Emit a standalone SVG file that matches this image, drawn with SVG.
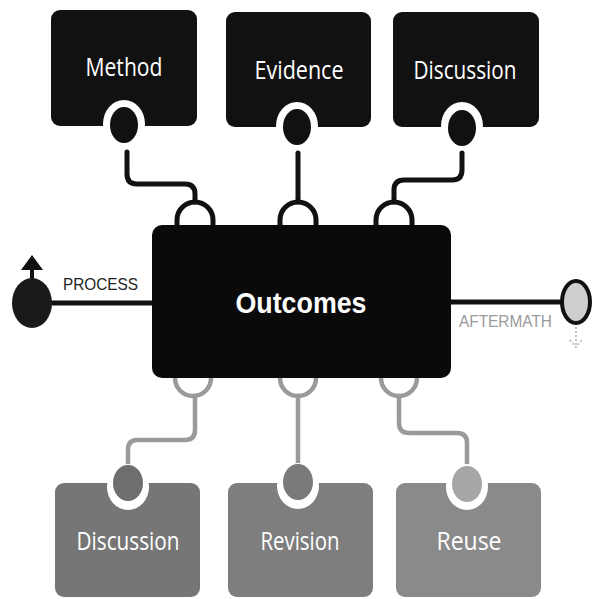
<svg xmlns="http://www.w3.org/2000/svg" width="594" height="599" viewBox="0 0 594 599">
  <defs>
    <style>
      .top { fill: #111; }
      .lbl { font-family: "Open Sans", "DejaVu Sans", sans-serif; font-size: 25px; fill: #fff; text-anchor: middle; }
      .notch { fill: #fff; }
      .dk { fill: #111; }
      .conT { fill: none; stroke: #111; stroke-width: 5; stroke-linecap: round; }
      .conB { fill: none; stroke: #9a9a9a; stroke-width: 4.5; stroke-linecap: round; }
      .sm { font-family: "Liberation Sans", Arial, sans-serif; }
    </style>
  </defs>
  <rect width="594" height="599" fill="#fff"/>

  <g id="connectors">
    <!-- top -->
    <path class="conT" d="M127,152 L127,174 Q127,184 137,184 L185,184 Q195,184 195,194 L195,202"/>
    <path class="conT" d="M298,153 L298,202"/>
    <path class="conT" d="M462,153 L462,170 Q462,180 452,180 L404,180 Q394,180 394,190 L394,202"/>
    <!-- top loops -->
    <path class="conT" d="M177,228 L177,220 A18,18 0 0 1 213,220 L213,228"/>
    <path class="conT" d="M280,228 L280,220 A18,18 0 0 1 316,220 L316,228"/>
    <path class="conT" d="M376,228 L376,220 A18,18 0 0 1 412,220 L412,228"/>
    <!-- bottom loops -->
    <path class="conB" d="M175,376 L175,378 A18,18 0 0 0 211,378 L211,376"/>
    <path class="conB" d="M280,376 L280,378 A18,18 0 0 0 316,378 L316,376"/>
    <path class="conB" d="M381,376 L381,378 A18,18 0 0 0 417,378 L417,376"/>
    <!-- bottom -->
    <path class="conB" d="M195,396 L195,430 Q195,440 185,440 L137,440 Q128,440 128,450 L128,465"/>
    <path class="conB" d="M298,396 L298,463"/>
    <path class="conB" d="M399,396 L399,423 Q399,433 409,433 L457,433 Q467,433 467,443 L467,467"/>
    <!-- process / aftermath -->
    <path d="M50,303 L153,303" stroke="#111" stroke-width="5" fill="none"/>
    <path d="M450,302 L562,302" stroke="#111" stroke-width="5" fill="none"/>
    <path d="M32,279 L32,265" stroke="#111" stroke-width="4" fill="none"/>
    <polygon points="32,255 21,270 43,270" fill="#111"/>
    <path d="M576,327 L576,345" stroke="#c4c4c4" stroke-width="2" stroke-dasharray="2 2" fill="none"/>
    <polyline points="570,340 576,347 582,340" stroke="#c4c4c4" stroke-width="2" stroke-dasharray="2 2" fill="none"/>
  </g>

  <g id="method">
    <rect class="top" x="51" y="10" width="146" height="116" rx="9"/>
    <ellipse class="notch" cx="124" cy="124" rx="21" ry="24"/>
    <ellipse class="dk" cx="124" cy="125" rx="14" ry="18"/>
    <text class="lbl" x="124" y="76" textLength="77" lengthAdjust="spacingAndGlyphs">Method</text>
  </g>
  <g id="evidence">
    <rect class="top" x="226" y="12" width="145" height="115" rx="9"/>
    <ellipse class="notch" cx="297" cy="126" rx="21" ry="24"/>
    <ellipse class="dk" cx="297" cy="127" rx="14" ry="18"/>
    <text class="lbl" x="299" y="79" textLength="89" lengthAdjust="spacingAndGlyphs">Evidence</text>
  </g>
  <g id="discussion-top">
    <rect class="top" x="393" y="12" width="146" height="115" rx="9"/>
    <ellipse class="notch" cx="462" cy="126" rx="21" ry="24"/>
    <ellipse class="dk" cx="462" cy="128" rx="14" ry="18"/>
    <text class="lbl" x="465" y="79" textLength="103" lengthAdjust="spacingAndGlyphs">Discussion</text>
  </g>

  <g id="outcomes">
    <rect x="152" y="225" width="299" height="153" rx="10" fill="#0a0a0a"/>
    <text class="sm" x="301" y="313" font-size="30" font-weight="bold" fill="#fff" text-anchor="middle" textLength="131" lengthAdjust="spacingAndGlyphs">Outcomes</text>
  </g>

  <g id="process">
    <ellipse cx="32" cy="303" rx="20" ry="25" fill="#1a1a1a"/>
    <text class="sm" x="63" y="290" font-size="17" fill="#222" textLength="75" lengthAdjust="spacingAndGlyphs">PROCESS</text>
  </g>

  <g id="aftermath">
    <ellipse cx="576" cy="302" rx="14" ry="21" fill="#cfcfcf" stroke="#111" stroke-width="4"/>
    <text class="sm" x="459" y="327" font-size="16" fill="#9a9a9a" textLength="93" lengthAdjust="spacingAndGlyphs">AFTERMATH</text>
  </g>

  <g id="discussion-bottom">
    <rect x="55" y="483" width="145" height="114" rx="9" fill="#767676"/>
    <ellipse class="notch" cx="128" cy="487" rx="21" ry="23"/>
    <ellipse cx="128" cy="483" rx="15" ry="18" fill="#6e6e6e"/>
    <text class="lbl" x="128" y="550" textLength="103" lengthAdjust="spacingAndGlyphs">Discussion</text>
  </g>
  <g id="revision">
    <rect x="228" y="483" width="145" height="114" rx="9" fill="#7e7e7e"/>
    <ellipse class="notch" cx="298" cy="486" rx="21" ry="23"/>
    <ellipse cx="298" cy="482" rx="15" ry="18" fill="#7a7a7a"/>
    <text class="lbl" x="300" y="550" textLength="79" lengthAdjust="spacingAndGlyphs">Revision</text>
  </g>
  <g id="reuse">
    <rect x="396" y="483" width="145" height="114" rx="9" fill="#8a8a8a"/>
    <ellipse class="notch" cx="467" cy="487" rx="21" ry="23"/>
    <ellipse cx="467" cy="484" rx="15" ry="18" fill="#a6a6a6"/>
    <text class="lbl" x="469" y="550" textLength="65" lengthAdjust="spacingAndGlyphs">Reuse</text>
  </g>
</svg>
